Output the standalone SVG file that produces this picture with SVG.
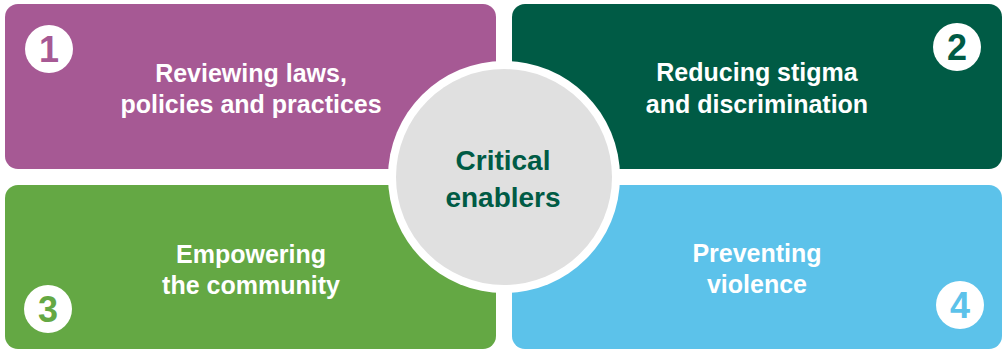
<svg xmlns="http://www.w3.org/2000/svg" width="1003" height="351" viewBox="0 0 1003 351">
<style>
.lbl{font-family:"Liberation Sans",Arial,sans-serif;font-weight:bold;font-size:25px;fill:#ffffff;text-anchor:middle}
.num{font-family:"Liberation Sans",Arial,sans-serif;font-weight:bold;font-size:36px;text-anchor:middle}
.ctr{font-family:"Liberation Sans",Arial,sans-serif;font-weight:bold;font-size:28px;fill:#005b45;text-anchor:middle}
</style>
<rect width="1003" height="351" fill="#ffffff"/>
<g id="node1">
<rect x="5" y="4" width="491" height="165" rx="13" fill="#a65994"/>
<circle cx="49" cy="49" r="24" fill="#ffffff"/>
<text class="num" x="49" y="62" fill="#a65994">1</text>
<text class="lbl" x="251" y="82">Reviewing laws,</text>
<text class="lbl" x="251" y="113">policies and practices</text>
</g>
<g id="node2">
<rect x="512" y="4" width="490" height="165" rx="13" fill="#005b45"/>
<circle cx="957" cy="47" r="24" fill="#ffffff"/>
<text class="num" x="957" y="60" fill="#005b45">2</text>
<text class="lbl" x="757" y="81">Reducing stigma</text>
<text class="lbl" x="757" y="113">and discrimination</text>
</g>
<g id="node3">
<rect x="5" y="185" width="491" height="164" rx="13" fill="#64a844"/>
<circle cx="48" cy="309" r="24" fill="#ffffff"/>
<text class="num" x="48" y="322" fill="#64a844">3</text>
<text class="lbl" x="251" y="263">Empowering</text>
<text class="lbl" x="251" y="294">the community</text>
</g>
<g id="node4">
<rect x="512" y="185" width="490" height="164" rx="13" fill="#5cc2ea"/>
<circle cx="960" cy="305" r="24" fill="#ffffff"/>
<text class="num" x="960" y="318" fill="#5cc2ea">4</text>
<text class="lbl" x="757" y="262">Preventing</text>
<text class="lbl" x="757" y="293">violence</text>
</g>
<g id="center">
<circle cx="504" cy="177" r="116" fill="#ffffff"/>
<circle cx="504" cy="177" r="108" fill="#e0e0e0"/>
<text class="ctr" x="503" y="170">Critical</text>
<text class="ctr" x="503" y="207">enablers</text>
</g>
<g id="connectors"></g>
</svg>
